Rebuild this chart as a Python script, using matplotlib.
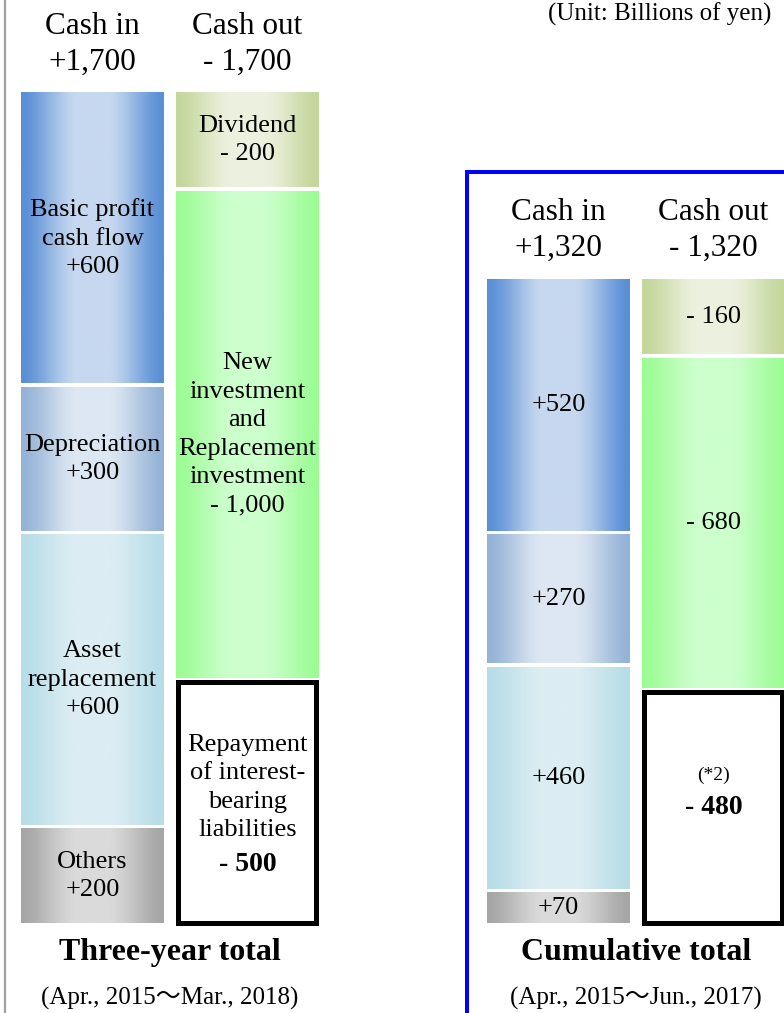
"""Cash in / cash out stacked columns: three-year plan vs cumulative total."""

import matplotlib

matplotlib.use("Agg")
import matplotlib.pyplot as plt
import numpy as np
from matplotlib.colors import to_rgb
from matplotlib.patches import Rectangle

# ---- data (billions of yen), stacks listed bottom-up ----
in_names = ["Others", "Asset\nreplacement", "Depreciation", "Basic profit\ncash flow"]
three_year_in = [200, 600, 300, 600]
cumulative_in = [70, 460, 270, 520]

out_names = ["Repayment\nof interest-\nbearing\nliabilities",
             "New\ninvestment\nand\nReplacement\ninvestment",
             "Dividend"]
three_year_out = [500, 1000, 200]
cumulative_out = [480, 680, 160]

panel_titles = ["Three-year total", "Cumulative total"]
panel_periods = ["(Apr., 2015\u301cMar., 2018)", "(Apr., 2015\u301cJun., 2017)"]
unit_label = "(Unit: Billions of yen)"

# ---- styles ----
in_colors = [("#a6a6a6", "#dadada"),   # others
             ("#b7dde8", "#dcedf3"),   # asset replacement
             ("#95b3d7", "#dde7f3"),   # depreciation
             ("#5a8fd6", "#c6d8ef")]   # basic profit
out_colors = [None,                     # repayment -> white box
              ("#9cfc94", "#ccffcc"),   # investment
              ("#c4d79b", "#ecf1df")]   # dividend

plt.rcParams["font.family"] = ["Liberation Serif", "Noto Sans CJK JP", "DejaVu Sans"]

W, H = 784, 1013
BASE_PX = 925            # pixel row of the column bottoms
SCALE = 834 / 1700       # pixels per billion yen
GAP = 2.0 / SCALE        # white gap between segments (half, in data units)
COL_W = 143
LS = 1.38


def y_of(px):
    """Pixel row -> data y."""
    return (BASE_PX - px) / SCALE


def gradient(edge, center, n=256):
    t = np.linspace(0, 1, n)
    d = 1 - np.abs(2 * t - 1)
    w = np.clip((d - 0.03) / 0.72, 0, 1)
    w = 0.5 * w + 0.5 * w * w * (3 - 2 * w)
    e, c = np.array(to_rgb(edge)), np.array(to_rgb(center))
    return (e[None, :] + (c - e)[None, :] * w[:, None])[None, :, :]


def fmt_in(v):
    return f"+{v:,}"


def fmt_out(v):
    return f"- {v:,}"


fig = plt.figure(figsize=(W / 100, H / 100), dpi=100)
ax = fig.add_axes([0, 0, 1, 1])
ax.axis("off")

FS_HEAD = 22.5
FS_IN = 19


def draw_in_column(x0, values, with_names):
    bottom = 0
    for i, v in enumerate(values):
        edge, center = in_colors[i]
        ax.imshow(gradient(edge, center), extent=(x0, x0 + COL_W, bottom + GAP, bottom + v - GAP),
                  aspect="auto", interpolation="bilinear", zorder=1)
        label = fmt_in(v) if not with_names else f"{in_names[i]}\n{fmt_in(v)}"
        ax.text(x0 + COL_W / 2, bottom + v / 2, label, ha="center", va="center",
                fontsize=FS_IN, linespacing=LS, zorder=3)
        bottom += v
    return bottom


def draw_out_column(x0, values, with_names, note=None):
    bottom = 0
    cx = x0 + COL_W / 2
    for i, v in enumerate(values):
        mid = bottom + v / 2
        if out_colors[i] is None:
            inset = 2.5
            ax.add_patch(Rectangle((x0 + inset, bottom + inset / SCALE), COL_W - 2 * inset,
                                   v - 2 * inset / SCALE, facecolor="white", edgecolor="black",
                                   linewidth=5 * 0.72, zorder=2))
            if with_names:
                ax.annotate(out_names[i], (cx, mid), xytext=(0, 15), textcoords="offset pixels",
                            ha="center", va="center", fontsize=FS_IN, linespacing=LS, zorder=3)
                ax.annotate(fmt_out(v), (cx, mid), xytext=(0, -62), textcoords="offset pixels",
                            ha="center", va="center", fontsize=20, fontweight="bold", zorder=3)
            else:
                ax.annotate(note, (cx, mid), xytext=(0, 32), textcoords="offset pixels",
                            ha="center", va="center", fontsize=14, zorder=3)
                ax.annotate(fmt_out(v), (cx, mid), ha="center", va="center",
                            fontsize=20, fontweight="bold", zorder=3)
        else:
            edge, center = out_colors[i]
            ax.imshow(gradient(edge, center), extent=(x0, x0 + COL_W, bottom + GAP, bottom + v - GAP),
                      aspect="auto", interpolation="bilinear", zorder=1)
            label = fmt_out(v) if not with_names else f"{out_names[i]}\n{fmt_out(v)}"
            ax.text(cx, mid, label, ha="center", va="center", fontsize=FS_IN,
                    linespacing=LS, zorder=3)
        bottom += v
    return bottom


panels = [
    dict(x_in=21, x_out=176, vin=three_year_in, vout=three_year_out, names=True, note=None),
    dict(x_in=487, x_out=642, vin=cumulative_in, vout=cumulative_out, names=False, note="(*2)"),
]

for k, p in enumerate(panels):
    tot_in = draw_in_column(p["x_in"], p["vin"], p["names"])
    tot_out = draw_out_column(p["x_out"], p["vout"], p["names"], p["note"])
    top_px = BASE_PX - tot_in * SCALE
    for x0, head, val in [(p["x_in"], "Cash in", fmt_in(tot_in)),
                          (p["x_out"], "Cash out", fmt_out(tot_out))]:
        cx = x0 + COL_W / 2
        ax.text(cx, y_of(top_px - 65), head, ha="center", va="center", fontsize=FS_HEAD)
        ax.text(cx, y_of(top_px - 29), val, ha="center", va="center", fontsize=FS_HEAD)
    mid_x = (p["x_in"] + p["x_out"] + COL_W) / 2
    ax.text(mid_x, y_of(952), panel_titles[k], ha="center", va="center",
            fontsize=23, fontweight="bold")
    ax.text(mid_x, y_of(998), panel_periods[k], ha="center", va="center", fontsize=18)

# frames
ax.plot([5, 5], [y_of(-5), y_of(H + 5)], color="#a0a0a0", linewidth=1.6, zorder=0)
ax.add_patch(Rectangle((467, y_of(H + 20)), 400, y_of(172) - y_of(H + 20), fill=False,
                       edgecolor="#0000ff", linewidth=4 * 0.72, zorder=0))
ax.text(660, y_of(3), unit_label, ha="center", va="top", fontsize=18)

ax.set_xlim(0, W)
ax.set_ylim(y_of(H), y_of(0))

fig.savefig("out.png", dpi=100)
